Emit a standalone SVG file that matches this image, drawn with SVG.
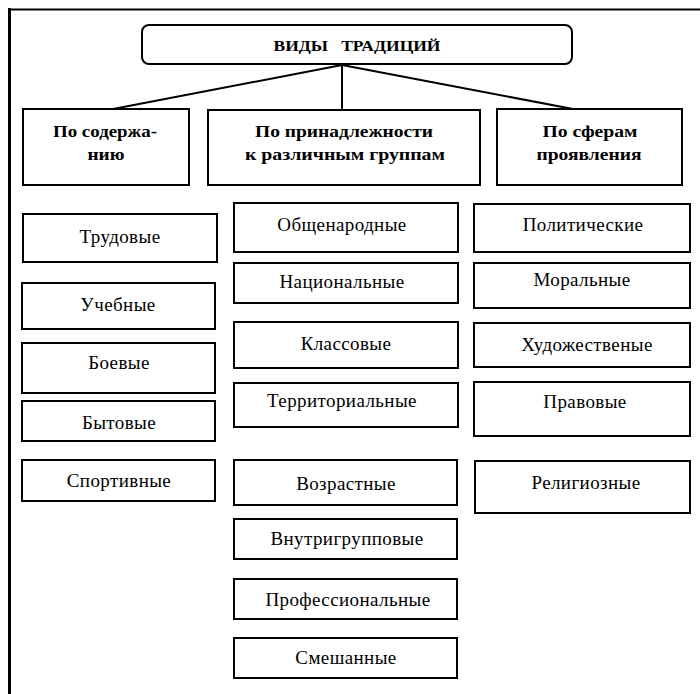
<svg xmlns="http://www.w3.org/2000/svg" width="700" height="694" viewBox="0 0 700 694">
<style>
.box{fill:#fff;stroke:#000;stroke-width:2}
.t{font-family:"Liberation Serif","DejaVu Serif","Times New Roman",serif;font-size:19px;letter-spacing:0.4px;fill:#000;text-anchor:middle}
.h{font-family:"Liberation Serif","DejaVu Serif","Times New Roman",serif;font-size:16px;font-weight:bold;fill:#000;text-anchor:middle}
.ttl{font-family:"Liberation Serif","DejaVu Serif","Times New Roman",serif;font-size:14px;font-weight:bold;fill:#000;text-anchor:middle}
.ln{stroke:#000;stroke-width:2;fill:none}
</style>
<rect width="700" height="694" fill="#fff"/>
<g id="frame">
<line x1="8" y1="9.5" x2="700" y2="9.5" stroke="#000" stroke-width="2"/>
<line x1="9.5" y1="8" x2="9.5" y2="694" stroke="#000" stroke-width="3"/>
</g>
<g id="connectors">
<line class="ln" x1="342" y1="65" x2="113" y2="109"/>
<line class="ln" x1="342" y1="65" x2="342" y2="110" stroke-width="1.2"/>
<line class="ln" x1="342" y1="65" x2="573" y2="109"/>
</g>
<g id="root">
<rect class="box" x="142" y="25" width="430" height="39" rx="7"/>
<text class="ttl" x="357" y="51" textLength="167" lengthAdjust="spacingAndGlyphs">ВИДЫ&#160;&#160;&#160;ТРАДИЦИЙ</text>
</g>
<g id="cat-content">
<rect class="box" x="23" y="109" width="166" height="76"/>
<text class="h" x="105" y="137" textLength="104" lengthAdjust="spacingAndGlyphs">По содержа-</text>
<text class="h" x="106" y="160" textLength="37" lengthAdjust="spacingAndGlyphs">нию</text>
</g>
<g id="cat-groups">
<rect class="box" x="208" y="110" width="272" height="75"/>
<text class="h" x="344" y="137" textLength="178" lengthAdjust="spacingAndGlyphs">По принадлежности</text>
<text class="h" x="345" y="160" textLength="200" lengthAdjust="spacingAndGlyphs">к различным группам</text>
</g>
<g id="cat-spheres">
<rect class="box" x="497" y="109" width="185" height="76"/>
<text class="h" x="590" y="137" textLength="95" lengthAdjust="spacingAndGlyphs">По сферам</text>
<text class="h" x="589" y="160" textLength="105" lengthAdjust="spacingAndGlyphs">проявления</text>
</g>
<g id="n-trud"><rect class="box" x="23" y="214" width="194" height="48"/><text class="t" x="120" y="243">Трудовые</text></g>
<g id="n-ucheb"><rect class="box" x="22" y="283" width="193" height="46"/><text class="t" x="118" y="311">Учебные</text></g>
<g id="n-boev"><rect class="box" x="22" y="343" width="193" height="50"/><text class="t" x="119" y="369">Боевые</text></g>
<g id="n-byt"><rect class="box" x="22" y="401" width="193" height="40"/><text class="t" x="119" y="429">Бытовые</text></g>
<g id="n-sport"><rect class="box" x="22" y="460" width="193" height="41"/><text class="t" x="119" y="487">Спортивные</text></g>
<g id="n-obsh"><rect class="box" x="234" y="203" width="224" height="49"/><text class="t" x="342" y="231">Общенародные</text></g>
<g id="n-nac"><rect class="box" x="234" y="263" width="224" height="40"/><text class="t" x="342" y="288">Национальные</text></g>
<g id="n-klass"><rect class="box" x="234" y="322" width="224" height="46"/><text class="t" x="346" y="350">Классовые</text></g>
<g id="n-terr"><rect class="box" x="234" y="383" width="224" height="44"/><text class="t" x="342" y="407">Территориальные</text></g>
<g id="n-vozr"><rect class="box" x="234" y="460" width="223" height="45"/><text class="t" x="346" y="490">Возрастные</text></g>
<g id="n-vnutr"><rect class="box" x="234" y="519" width="223" height="40"/><text class="t" x="347" y="545">Внутригрупповые</text></g>
<g id="n-prof"><rect class="box" x="234" y="579" width="223" height="40"/><text class="t" x="348" y="606">Профессиональные</text></g>
<g id="n-smesh"><rect class="box" x="234" y="638" width="223" height="40"/><text class="t" x="346" y="664">Смешанные</text></g>
<g id="n-polit"><rect class="box" x="474" y="204" width="216" height="48"/><text class="t" x="583" y="231">Политические</text></g>
<g id="n-moral"><rect class="box" x="474" y="263" width="216" height="45"/><text class="t" x="582" y="286">Моральные</text></g>
<g id="n-hud"><rect class="box" x="474" y="323" width="216" height="44"/><text class="t" x="587" y="351">Художественые</text></g>
<g id="n-prav"><rect class="box" x="474" y="382" width="216" height="54"/><text class="t" x="585" y="408">Правовые</text></g>
<g id="n-relig"><rect class="box" x="475" y="461" width="215" height="52"/><text class="t" x="586" y="489">Религиозные</text></g>
</svg>
